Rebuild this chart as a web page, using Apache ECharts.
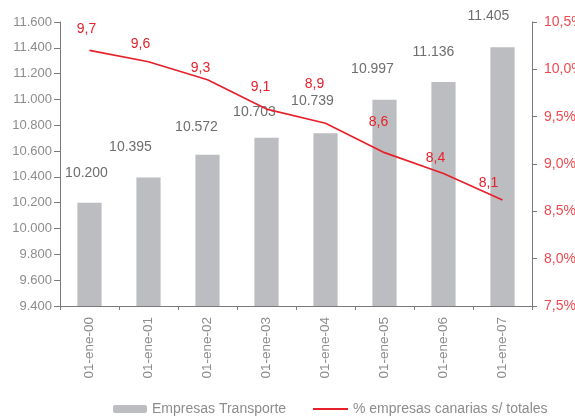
<!DOCTYPE html>
<html>
<head>
<meta charset="utf-8">
<script src="https://cdn.jsdelivr.net/npm/echarts@6/dist/echarts.min.js"></script>
<style>
  html, body { margin: 0; padding: 0; background: #fff; }
  #chart { width: 575px; height: 416px; }
</style>
</head>
<body>
<div id="chart"></div>
<script>
var dom = document.getElementById('chart');
var myChart = echarts.init(dom, null, { renderer: 'canvas' });

// datos
let categorias = ['01-ene-00', '01-ene-01', '01-ene-02', '01-ene-03', '01-ene-04', '01-ene-05', '01-ene-06', '01-ene-07'];
let empresasTransporte = [10200, 10395, 10572, 10703, 10739, 10997, 11136, 11405];
// posicion de la linea leida sobre el eje derecho
let pctEmpresas = [10.20, 10.08, 9.89, 9.58, 9.43, 9.12, 8.90, 8.62];
// etiquetas tal como aparecen en el grafico
let pctEtiquetas = ['9,7', '9,6', '9,3', '9,1', '8,9', '8,6', '8,4', '8,1'];

// desplazamiento de etiquetas (solo estilo)
let barLabelOffsets = [[-3, -23], [-18, -23], [-11, -21], [-12, -19], [-13, -25], [-12, -24], [-10, -23], [-14, -24]];
let lineLabelOffsets = [[-3, -21], [-8, -18], [-7, -12], [-6, -22], [-11, -39], [-6, -30], [-8, -15], [-14, -17]];

function miles(v) {
    var s = String(Math.round(v));
    if (s.length <= 3) return s;
    return s.slice(0, s.length - 3) + '.' + s.slice(s.length - 3);
}

var gris = '#8c8c8c';
var rojo = '#e8202a';
var fuente = 'Liberation Sans';

var option = {
    animation: false,
    textStyle: { fontFamily: fuente },
    grid: { left: 60, right: 43, top: 22, bottom: 110, outerBoundsMode: 'none', containLabel: false },
    legend: [
        {
            data: ['Empresas Transporte'],
            left: 113,
            top: 402,
            padding: 0,
            itemWidth: 34,
            itemHeight: 8,
            textStyle: { color: gris, fontSize: 14, fontFamily: fuente }
        },
        {
            data: [{ name: '% empresas canarias s/ totales', icon: 'rect' }],
            left: 313,
            top: 402,
            padding: 0,
            itemWidth: 35,
            itemHeight: 2,
            textStyle: { color: gris, fontSize: 14, fontFamily: fuente }
        }
    ],
    xAxis: {
        type: 'category',
        data: categorias,
        axisLine: { lineStyle: { color: '#7a7a7a', width: 1 } },
        axisTick: { show: true, length: 4, lineStyle: { color: '#7a7a7a' } },
        axisLabel: { rotate: 90, color: gris, fontSize: 13.5, margin: 11, fontFamily: fuente }
    },
    yAxis: [
        {
            type: 'value',
            min: 9400,
            max: 11600,
            interval: 200,
            splitLine: { show: false },
            axisLine: { show: true, lineStyle: { color: '#7a7a7a', width: 1 } },
            axisTick: { show: true, length: 6, lineStyle: { color: '#7a7a7a' } },
            axisLabel: { color: gris, fontSize: 13, margin: 8, fontFamily: fuente, formatter: miles }
        },
        {
            type: 'value',
            min: 7.5,
            max: 10.5,
            interval: 0.5,
            position: 'right',
            splitLine: { show: false },
            axisLine: { show: true, lineStyle: { color: '#7a7a7a', width: 1 } },
            axisTick: { show: true, length: 5, lineStyle: { color: '#7a7a7a' } },
            axisLabel: {
                color: '#ee4a52', fontSize: 14, margin: 12, fontFamily: fuente,
                formatter: function (v) { return v.toFixed(1).replace('.', ',') + '%'; }
            }
        }
    ],
    series: [
        {
            name: 'Empresas Transporte',
            type: 'bar',
            barWidth: '41%',
            yAxisIndex: 0,
            itemStyle: { color: '#bcbdc1' },
            data: empresasTransporte.map(function (v, i) {
                return {
                    value: v,
                    label: { offset: barLabelOffsets[i] }
                };
            }),
            label: {
                show: true,
                position: 'top',
                distance: 0,
                color: '#6e6e6e',
                fontSize: 14,
                fontFamily: fuente,
                formatter: function (p) { return miles(p.value); }
            }
        },
        {
            name: '% empresas canarias s/ totales',
            type: 'line',
            yAxisIndex: 1,
            symbol: 'circle',
            symbolSize: 0.1,
            lineStyle: { color: rojo, width: 1.7 },
            itemStyle: { color: rojo },
            data: pctEmpresas.map(function (v, i) {
                return {
                    value: v,
                    label: { offset: lineLabelOffsets[i] }
                };
            }),
            label: {
                show: true,
                position: 'inside',
                color: rojo,
                fontSize: 14,
                fontFamily: fuente,
                formatter: function (p) { return pctEtiquetas[p.dataIndex]; }
            }
        }
    ]
};

myChart.setOption(option);
window.addEventListener('resize', myChart.resize);
</script>
</body>
</html>
